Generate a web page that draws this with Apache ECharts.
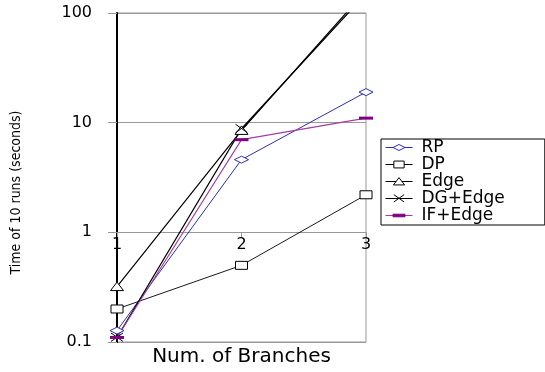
<!DOCTYPE html>
<html>
<head>
<meta charset="utf-8">
<script src="https://cdn.jsdelivr.net/npm/echarts@6/dist/echarts.min.js"></script>
<style>
  html, body { margin: 0; padding: 0; background: #fff; }
  #chart { width: 545px; height: 372px; }
</style>
</head>
<body>
<div id="chart"></div>
<script>
// Number of branches on the horizontal axis
const branches = ['1', '2', '3'];

// Time of 10 runs, in seconds, for each method
const rp      = [0.127, 4.6, 19];
const dp      = [0.2, 0.5, 2.2];
const edge    = [0.32, 8.5, 160];
const dgEdge  = [0.11, 8.8, 150];
const ifEdge  = [0.11, 7.0, 11];

const seriesNames = ['RP', 'DP', 'Edge', 'DG+Edge', 'IF+Edge'];

const wideFont = "'DejaVu Sans', 'Liberation Sans', sans-serif";
const narrowFont = "'Liberation Sans Narrow', 'DejaVu Sans Condensed', 'Liberation Sans', sans-serif";

// Marker outlines, each drawn inside a 14x14 frame so that the legend icons
// keep the same proportions as the markers on the lines.
const markers = {
  diamond:  'path://M0,0M0,7L7,3.5L14,7L7,10.5ZM14,14',
  square:   'path://M0,0M1,3H13V11H1ZM14,14',
  triangle: 'path://M0,0M7,2.5L13.5,11L0.5,11ZM14,14',
  cross:    'path://M0,0M1,2.5L13,11M13,2.5L1,11M14,14',
  dash:     'path://M0,0M0,5.5H14V8.5H0ZM14,14'
};

const grid = { left: 117, right: 179, top: 13, bottom: 30 };
const gridHeight = 372 - grid.top - grid.bottom;

function lineSeries(name, data, marker, color, lineColor, lineWidth, hollow) {
  return {
    name: name, type: 'line', data: data,
    symbol: marker, symbolSize: 14,
    itemStyle: hollow
      ? { color: '#fff', borderColor: color, borderWidth: 1 }
      : { color: color, borderColor: color, borderWidth: marker === markers.cross ? 1 : 0 },
    lineStyle: { color: lineColor, width: lineWidth }
  };
}

const chart = echarts.init(document.getElementById('chart'));

chart.setOption({
  animation: false,
  backgroundColor: '#fff',
  grid: {
    left: grid.left, right: grid.right, top: grid.top, bottom: grid.bottom,
    show: true, borderColor: '#999', borderWidth: 1, backgroundColor: 'transparent'
  },
  legend: {
    orient: 'vertical',
    left: 381, top: 139,
    itemGap: 0,
    itemWidth: 27, itemHeight: 15,
    padding: [0, 40, 1, 4],
    borderColor: '#000', borderWidth: 1,
    itemStyle: { borderWidth: 1 },
    lineStyle: { width: 1 },
    data: seriesNames,
    textStyle: { fontFamily: wideFont, fontSize: 17, lineHeight: 15, color: '#000', padding: [0, 0, 0, 4] }
  },
  xAxis: {
    type: 'category',
    data: branches,
    boundaryGap: false,
    position: 'bottom',
    // category axis crosses the log axis at 1
    offset: -gridHeight / 3,
    axisLine: { onZero: false, lineStyle: { color: '#999', width: 1 } },
    axisTick: { show: true, length: 5, lineStyle: { color: '#999' } },
    axisLabel: { fontFamily: wideFont, fontSize: 16, color: '#000', margin: 5 },
    splitLine: { show: false },
    name: 'Num. of Branches',
    nameLocation: 'middle',
    nameGap: 114,
    nameTextStyle: { fontFamily: wideFont, fontSize: 20, color: '#000' }
  },
  yAxis: {
    type: 'log',
    logBase: 10,
    min: 0.1,
    max: 100,
    axisLine: { show: true, lineStyle: { color: '#000', width: 2 } },
    axisTick: { show: true, length: 9, lineStyle: { color: '#999' } },
    axisLabel: { fontFamily: wideFont, fontSize: 16, color: '#000', margin: 25 },
    splitLine: { show: true, lineStyle: { color: '#999', width: 1 } },
    minorTick: { show: false },
    name: 'Time of 10 runs (seconds)',
    nameLocation: 'middle',
    nameGap: 94,
    nameTextStyle: { fontFamily: narrowFont, fontSize: 14, color: '#000', padding: [0, 30, 0, 0] }
  },
  series: [
    lineSeries('RP', rp, markers.diamond, '#2e2eb8', '#2e2eb8', 1, true),
    lineSeries('DP', dp, markers.square, '#000', '#000', 0.9, true),
    lineSeries('Edge', edge, markers.triangle, '#000', '#000', 1.2, true),
    lineSeries('DG+Edge', dgEdge, markers.cross, '#000', '#000', 1.3, false),
    lineSeries('IF+Edge', ifEdge, markers.dash, '#800080', '#a33ca3', 1.1, false)
  ]
});
</script>
</body>
</html>
